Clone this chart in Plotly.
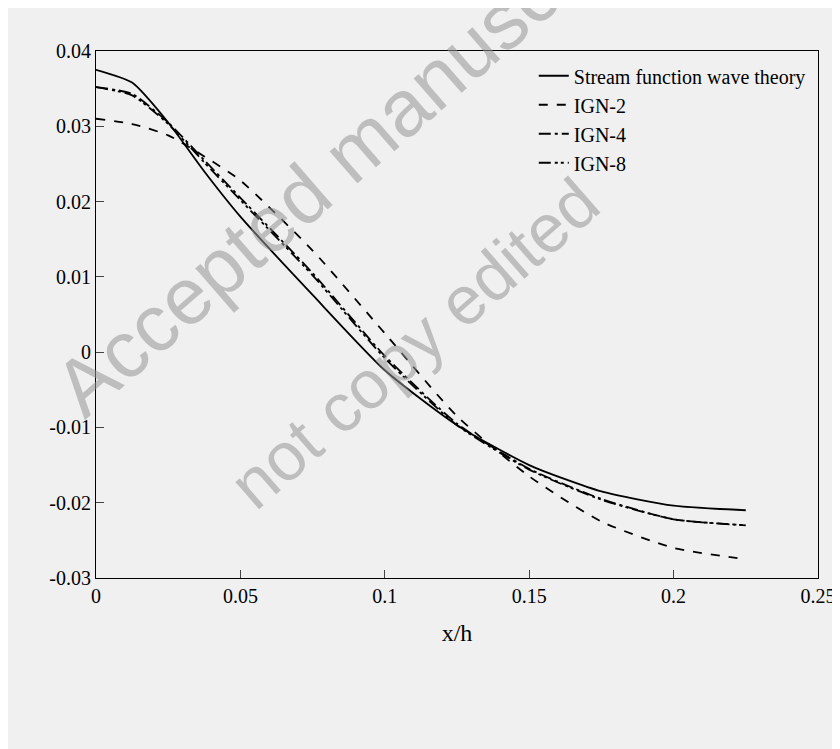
import plotly.graph_objects as go

x = [0, 0.0125, 0.025, 0.0375, 0.05, 0.075, 0.1, 0.125, 0.15, 0.175, 0.2, 0.225]
stream = [0.0375, 0.0358, 0.0305, 0.0240, 0.0180, 0.0076, -0.0024, -0.0097, -0.0150, -0.0185, -0.0204, -0.0210]
ign2 = [0.0310, 0.0303, 0.0288, 0.0260, 0.0228, 0.0135, 0.0025, -0.0085, -0.0165, -0.0225, -0.0260, -0.0275]
ign4 = [0.0352, 0.0343, 0.0305, 0.0255, 0.0205, 0.0105, -0.0005, -0.0095, -0.0155, -0.0195, -0.0222, -0.0230]
ign8 = [0.0352, 0.0341, 0.0303, 0.0252, 0.0202, 0.0102, -0.0008, -0.0097, -0.0156, -0.0196, -0.0222, -0.0230]
yticks = [-0.03, -0.02, -0.01, 0, 0.01, 0.02, 0.03, 0.04]
ylabels = ["-0.03", "-0.02", "-0.01", "0", "0.01", "0.02", "0.03", "0.04"]

names = ["Stream function wave theory", "IGN-2", "IGN-4", "IGN-8"]
dashes = ["solid", "dash", "12px,4px,3px,4px", "12px,4px,3px,3px,3px,4px"]
series = [stream, ign2, ign4, ign8]

fig = go.Figure()
for n, d, s in zip(names, dashes, series):
    fig.add_trace(go.Scatter(x=x, y=s, name=n, mode="lines", line_shape="spline",
                             line=dict(color="black", width=1.8, dash=d, smoothing=0.6)))

bg = "#f0f0f0"
font = dict(family="Liberation Serif", size=20, color="black")
fig.update_layout(
    width=840, height=749, paper_bgcolor=bg, plot_bgcolor=bg, font=font,
    margin=dict(l=88, r=20, t=43, b=179), showlegend=True,
    legend=dict(x=0.99, y=0.99, xanchor="right", yanchor="top", bgcolor="rgba(0,0,0,0)",
                font=dict(family="Liberation Serif", size=20)),
    xaxis=dict(range=[0, 0.25], tickvals=[0, 0.05, 0.1, 0.15, 0.2, 0.25],
               ticktext=["0", "0.05", "0.1", "0.15", "0.2", "0.25"], showgrid=False, zeroline=False,
               showline=True, linecolor="black", mirror=True, ticks="inside", ticklen=8,
               title=dict(text="x/h", standoff=18)),
    yaxis=dict(range=[-0.03, 0.04], tickvals=yticks, ticktext=ylabels, showgrid=False, zeroline=False,
               showline=True, linecolor="black", mirror=True, ticks="inside", ticklen=8),
)
fig.add_annotation(text="Accepted manuscript", x=0.35, y=0.27, xref="paper", yref="paper",
                   textangle=-41, showarrow=False,
                   font=dict(family="Liberation Sans", size=80, color="rgba(150,150,150,0.55)"))
fig.add_annotation(text="not copy edited", x=0.44, y=0.1, xref="paper", yref="paper",
                   textangle=-41, showarrow=False,
                   font=dict(family="Liberation Sans", size=68, color="rgba(150,150,150,0.55)"))
fig.write_html("out.html")
